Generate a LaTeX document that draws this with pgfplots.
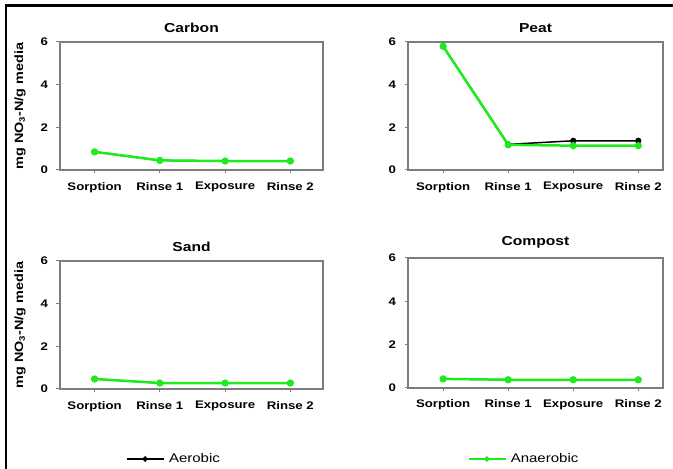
\documentclass[border=0pt]{standalone}
\usepackage{fontspec}
\setmainfont{Liberation Sans}[FakeStretch=1.2]
\usepackage{pgfplots}
\pgfplotsset{compat=1.18}
\definecolor{lime}{RGB}{30,235,30}
\definecolor{axgray}{RGB}{125,125,125}
\pgfplotsset{
  panel/.style={
    scale only axis, height=128pt,
    ymin=0, ymax=6,
    xtick={0,1,2,3}, xticklabels={Sorption,Rinse 1,Exposure,Rinse 2},
    ytick={0,2,4,6},
    axis line style={axgray, line width=1.6pt},
    tick style={axgray, line width=1pt},
    tick align=outside, major tick length=3.5pt,
    xtick pos=left, ytick pos=left,
    tick label style={font=\fontsize{11}{13}\selectfont\bfseries},
    xticklabel style={yshift=-5pt},
    yticklabel style={xshift=-5pt},
    /pgf/number format/assume math mode=true,
    title style={font=\fontsize{13}{15}\selectfont\bfseries, yshift=0pt},
    ylabel style={font=\fontsize{12}{14}\selectfont\bfseries, at={(axis description cs:-0.152,0.5)}, anchor=center},
    clip=false,
  },
  aer/.style={black, line width=1.5pt, mark=*, mark size=2.3pt, mark options={solid, fill=black}},
  ana/.style={lime, line width=2.5pt, mark=*, mark size=2.3pt, mark options={solid, fill=lime}},
}
\begin{document}
\begin{tikzpicture}[x=1pt,y=1pt]
\useasboundingbox (0,0) rectangle (673,469);
\draw[line width=2.5pt] (6,0) -- (6,463.3) -- (673,463.3);

% Carbon
\begin{axis}[panel, at={(60pt,427pt)}, anchor=north west, width=263pt,
  xmin=-0.53, xmax=3.5, title={Carbon}, ylabel={mg NO\textsubscript{3}-N/g media}]
\addplot[aer] coordinates {(0,0.85) (1,0.45) (2,0.42) (3,0.42)};
\addplot[ana] coordinates {(0,0.85) (1,0.45) (2,0.42) (3,0.42)};
\end{axis}

% Peat
\begin{axis}[panel, at={(408pt,427pt)}, anchor=north west, width=255pt,
  xmin=-0.54, xmax=3.38, title={Peat}]
\addplot[aer] coordinates {(0,5.8) (1,1.2) (2,1.37) (3,1.37)};
\addplot[ana] coordinates {(0,5.8) (1,1.18) (2,1.14) (3,1.14)};
\end{axis}

% Sand
\begin{axis}[panel, at={(60pt,208pt)}, anchor=north west, width=263pt,
  xmin=-0.53, xmax=3.5, title={Sand}, ylabel={mg NO\textsubscript{3}-N/g media},
  legend columns=2,
  legend style={at={(0.2396,-0.547)}, anchor=west, draw=none, fill=none,
    font=\fontsize{12.5}{14}\selectfont},
  legend image code/.code={\draw[#1, line width=1.8pt, mark repeat=2, mark phase=2, mark size=1.8pt] plot coordinates {(0pt,0pt) (18pt,0pt) (37pt,0pt)};}]
\addplot[aer] coordinates {(0,0.47) (1,0.28) (2,0.28) (3,0.28)};
\addlegendentry{\hspace{2pt}\makebox[297pt][l]{Aerobic}}
\addplot[ana] coordinates {(0,0.47) (1,0.28) (2,0.28) (3,0.28)};
\addlegendentry{\hspace{2pt}Anaerobic}
\end{axis}

% Compost
\begin{axis}[panel, at={(408pt,211pt)}, anchor=north west, width=255pt, height=130pt,
  xmin=-0.54, xmax=3.38, title={Compost}]
\addplot[aer] coordinates {(0,0.42) (1,0.38) (2,0.38) (3,0.38)};
\addplot[ana] coordinates {(0,0.42) (1,0.38) (2,0.38) (3,0.38)};
\end{axis}
\end{tikzpicture}
\end{document}
